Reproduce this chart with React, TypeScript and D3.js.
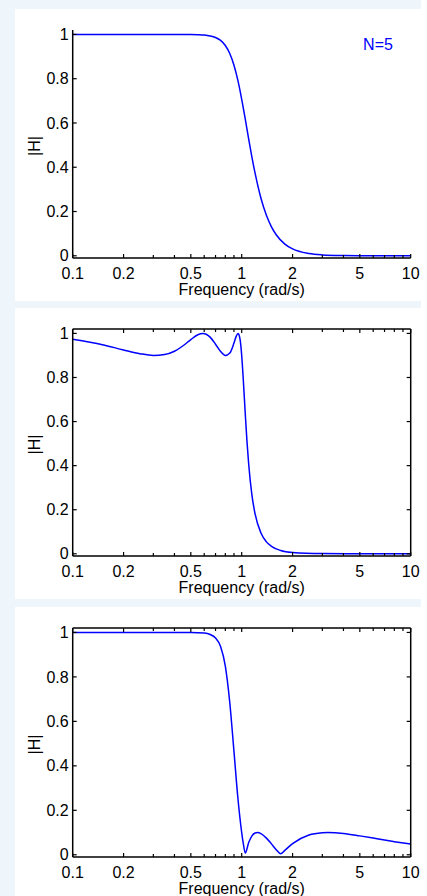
import React from "react";
import * as d3 from "d3";

const freqButter = [0.1, 0.2, 0.3, 0.4, 0.5, 0.55, 0.6, 0.65, 0.7, 0.75, 0.8, 0.85, 0.9, 0.95, 1.0, 1.05, 1.1, 1.15, 1.2, 1.3, 1.4, 1.5, 1.6, 1.8, 2.0, 2.5, 3, 4, 5, 7, 10];
const magButter = [1, 1, 1, 1, 0.9995, 0.9987, 0.997, 0.993, 0.986, 0.973, 0.95, 0.914, 0.861, 0.791, 0.707, 0.617, 0.527, 0.445, 0.373, 0.26, 0.183, 0.131, 0.095, 0.053, 0.031, 0.01, 0.004, 0.001, 0.0003, 0, 0];

const freqCheby = [0.1, 0.15, 0.2, 0.25, 0.3, 0.35, 0.4, 0.45, 0.5, 0.55, 0.59, 0.62, 0.65, 0.7, 0.75, 0.8, 0.85, 0.9, 0.93, 0.951, 0.965, 0.98, 1.0, 1.02, 1.05, 1.075, 1.1, 1.15, 1.2, 1.3, 1.4, 1.5, 1.7, 2, 3, 5, 10];
const magCheby = [0.974, 0.949, 0.925, 0.908, 0.9, 0.904, 0.919, 0.944, 0.972, 0.994, 1.0, 0.995, 0.983, 0.951, 0.918, 0.9, 0.911, 0.956, 0.989, 1.0, 0.993, 0.968, 0.9, 0.801, 0.634, 0.508, 0.406, 0.265, 0.181, 0.094, 0.054, 0.034, 0.015, 0.006, 0.001, 0, 0];

const freqInv = [0.1, 0.3, 0.5, 0.6, 0.65, 0.7, 0.75, 0.8, 0.85, 0.9, 0.95, 1.0, 1.02, 1.05, 1.1, 1.15, 1.2, 1.24, 1.3, 1.4, 1.5, 1.6, 1.7, 1.8, 2, 2.5, 3, 3.24, 4, 5, 6, 7, 8, 10];
const magInv = [1, 1, 0.9996, 0.997, 0.991, 0.975, 0.937, 0.849, 0.685, 0.465, 0.253, 0.1, 0.055, 0.008, 0.055, 0.085, 0.098, 0.1, 0.095, 0.075, 0.049, 0.023, 0.005, 0.02, 0.05, 0.089, 0.099, 0.1, 0.096, 0.085, 0.075, 0.066, 0.059, 0.048];

const xMajorTicks = [0.1, 0.2, 0.5, 1, 2, 5, 10];
const xMajorLabels = ["0.1", "0.2", "0.5", "1", "2", "5", "10"];
const xMinorTicks = [0.3, 0.4, 0.6, 0.7, 0.8, 0.9, 3, 4, 6, 7, 8, 9];
const yTicks = [0, 0.2, 0.4, 0.6, 0.8, 1];
const yLabels = ["0", "0.2", "0.4", "0.6", "0.8", "1"];

const FONT = "'Liberation Sans', Arial, Helvetica, sans-serif";
const FS = 16;
const LEFT = 72.7;
const RIGHT = 410.7;

type PanelProps = {
  freq: number[];
  mag: number[];
  top: number;
  bottom: number;
  box: boolean;
  note?: string;
};

function Panel({ freq, mag, top, bottom, box, note }: PanelProps) {
  const x = d3.scaleLog().domain([0.1, 10]).range([LEFT, RIGHT]);
  const y = d3.scaleLinear().domain([-0.01, 1.02]).range([bottom, top]);
  const pts = freq.map((f, i) => [f, mag[i]] as [number, number]);
  const line = d3
    .line<[number, number]>()
    .x((d) => x(d[0]))
    .y((d) => y(d[1]))
    .curve(d3.curveMonotoneX);
  const majLen = 4;
  const minLen = 3;
  return (
    <g>
      <path d={line(pts) || ""} fill="none" stroke="#0000ff" strokeWidth={1.5} />
      <line x1={LEFT} x2={LEFT} y1={top} y2={bottom} stroke="#000" strokeWidth={1.5} />
      <line x1={LEFT} x2={RIGHT} y1={bottom} y2={bottom} stroke="#000" strokeWidth={1.5} />
      {box && (
        <>
          <line x1={RIGHT} x2={RIGHT} y1={top} y2={bottom} stroke="#000" strokeWidth={1.5} />
          <line x1={LEFT} x2={RIGHT} y1={top} y2={top} stroke="#000" strokeWidth={1.5} />
        </>
      )}
      {xMajorTicks.map((t, i) => (
        <g key={"xM" + i}>
          <line x1={x(t)} x2={x(t)} y1={bottom} y2={bottom - majLen} stroke="#000" strokeWidth={1.2} />
          {box && <line x1={x(t)} x2={x(t)} y1={top} y2={top + majLen} stroke="#000" strokeWidth={1.2} />}
          <text x={x(t)} y={bottom + 20.5} textAnchor="middle" fontFamily={FONT} fontSize={FS} fill="#000">
            {xMajorLabels[i]}
          </text>
        </g>
      ))}
      {xMinorTicks.map((t, i) => (
        <g key={"xm" + i}>
          <line x1={x(t)} x2={x(t)} y1={bottom} y2={bottom - minLen} stroke="#000" strokeWidth={1.2} />
          {box && <line x1={x(t)} x2={x(t)} y1={top} y2={top + minLen} stroke="#000" strokeWidth={1.2} />}
        </g>
      ))}
      {yTicks.map((t, i) => (
        <g key={"y" + i}>
          <line x1={LEFT} x2={LEFT + majLen} y1={y(t)} y2={y(t)} stroke="#000" strokeWidth={1.2} />
          {box && <line x1={RIGHT} x2={RIGHT - majLen} y1={y(t)} y2={y(t)} stroke="#000" strokeWidth={1.2} />}
          <text x={LEFT - 4} y={y(t) + 5.6} textAnchor="end" fontFamily={FONT} fontSize={FS} fill="#000">
            {yLabels[i]}
          </text>
        </g>
      ))}
      <text
        x={(LEFT + RIGHT) / 2}
        y={bottom + 37}
        textAnchor="middle"
        fontFamily={FONT}
        fontSize={FS}
        fill="#000"
      >
        Frequency (rad/s)
      </text>
      <text
        transform={`translate(39.5,${(top + bottom) / 2 + 2}) rotate(-90)`}
        textAnchor="middle"
        fontFamily={FONT}
        fontSize={FS}
        fill="#000"
      >
        |H|
      </text>
      {note && (
        <text x={378} y={top + 20} textAnchor="middle" fontFamily={FONT} fontSize={FS} fill="#0000ff">
          {note}
        </text>
      )}
    </g>
  );
}

export default function App() {
  return (
    <svg
      width={427}
      height={896}
      style={{ position: "absolute", left: 0, top: 0, display: "block" }}
    >
      <rect x={0} y={0} width={427} height={896} fill="#ffffff" />
      <rect x={0} y={0} width={421} height={896} fill="#eef6fc" />
      <rect x={15} y={9} width={412} height={292} fill="#ffffff" />
      <rect x={15} y={308} width={412} height={291} fill="#ffffff" />
      <rect x={15} y={607} width={412} height={289} fill="#ffffff" />
      <Panel freq={freqButter} mag={magButter} top={30} bottom={258} box={false} note="N=5" />
      <Panel freq={freqCheby} mag={magCheby} top={329} bottom={556} box={true} />
      <Panel freq={freqInv} mag={magInv} top={628} bottom={857} box={true} />
    </svg>
  );
}
